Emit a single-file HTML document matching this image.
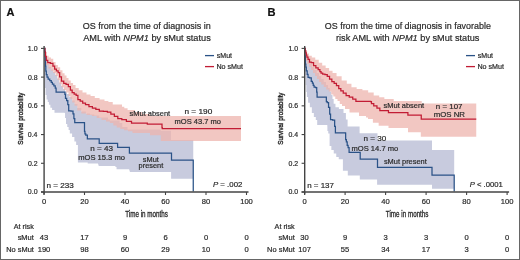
<!DOCTYPE html>
<html><head><meta charset="utf-8"><style>
html,body{margin:0;padding:0;background:#fff;}
body{width:520px;height:260px;overflow:hidden;font-family:"Liberation Sans", sans-serif;}
svg{display:block;}
</style></head><body>
<svg width="520" height="260" viewBox="0 0 520 260" style="will-change:transform" font-family='"Liberation Sans", sans-serif'>
<rect x="0" y="0" width="520" height="260" fill="#fff"/>
<path d="M44.60 48.30H44.95V54.00H45.30H45.80V60.00H46.30H47.05V64.00H47.80H48.80V67.00H49.80H50.90V69.50H52.00H53.00V72.00H54.00H55.00V75.00H56.00H57.00V78.50H58.00H59.00V82.50H60.00H61.00V86.00H62.00H63.00V89.00H64.00H65.00V91.50H66.00H67.00V94.00H68.00H69.50V97.00H71.00H72.25V100.50H73.50H74.75V104.00H76.00H77.50V108.00H79.00H81.35V111.50H83.70H85.85V113.50H88.00H90.00V114.50H92.00H94.25V115.50H96.50H99.25V117.50H102.00H108.00V119.50H109.85V120.50H111.70H119.60V123.00H122.30V127.00H125.00H127.50V129.50H130.00H160.80V130.70H171.00V140.00H193.25V140.00V178.75L193.25 178.75L171.20 178.75L171.10 178.75L171.10 172.00L171.00 172.00L171.00 172.00L130.40 172.00L129.80 172.00L129.80 170.40L129.20 170.40L129.20 169.20L117.70 169.20L116.55 169.20L116.55 167.00L115.40 167.00L115.40 166.00L99.20 166.00L98.60 166.00L98.60 164.60L98.00 164.60L98.00 163.50L87.70 163.50L87.70 162.50L78.50 162.50L77.90 162.50L77.90 145.00L77.30 145.00L76.15 145.00L76.15 141.50L75.00 141.50L74.40 141.50L74.40 137.00L73.80 137.00L72.10 137.00L72.10 133.50L70.40 133.50L69.80 133.50L69.80 130.00L69.20 130.00L68.60 130.00L68.60 127.00L68.00 127.00L67.25 127.00L67.25 124.00L66.50 124.00L66.00 124.00L66.00 118.00L65.50 118.00L65.05 118.00L65.05 113.00L64.60 113.00L64.60 112.80L56.00 112.80L54.50 112.80L54.50 110.00L53.00 110.00L52.10 110.00L52.10 107.70L51.20 107.70L50.35 107.70L50.35 104.80L49.50 104.80L48.90 104.80L48.90 102.00L48.30 102.00L47.75 102.00L47.75 99.60L47.20 99.60L46.60 99.60L46.60 95.00L46.00 95.00L45.60 95.00L45.60 88.00L45.20 88.00L44.90 88.00L44.90 80.00L44.60 80.00Z" fill="#c8cbde"/>
<path d="M44.60 48.30H45.30V52.00H46.00H46.75V55.80H47.50H48.65V57.50H49.80H50.95V58.70H52.10H53.25V62.10H54.40H55.55V65.00H56.70H57.85V67.30H59.00H60.15V70.20H61.30H62.45V73.20H63.60H64.55V75.50H65.50H66.50V78.00H67.50H68.50V80.40H69.50H70.75V83.00H72.00H73.05V85.00H74.10H75.55V88.00H77.00H78.75V90.20H80.50H82.50V92.50H84.50H86.50V94.50H88.50H90.55V96.00H92.60H94.80V98.00H97.00H99.60V99.50H102.20H104.50V101.00H106.80H108.40V102.00H110.00H112.75V104.50H115.50H122.00V106.80H124.30V108.20H126.60H127.55V110.00H128.50H135.00V112.00H142.00V114.00H150.00V115.90H241.00V115.90V141.00L241.00 141.00L160.80 141.00L160.80 135.30L150.00 135.30L150.00 133.00L135.00 133.00L132.50 133.00L132.50 131.30L130.00 131.30L128.00 131.30L128.00 130.30L126.00 130.30L124.00 130.30L124.00 129.00L122.00 129.00L120.25 129.00L120.25 127.50L118.50 127.50L116.75 127.50L116.75 125.50L115.00 125.50L113.35 125.50L113.35 123.00L111.70 123.00L109.85 123.00L109.85 121.50L108.00 121.50L106.00 121.50L106.00 120.00L104.00 120.00L101.50 120.00L101.50 118.00L99.00 118.00L96.70 118.00L96.70 116.00L94.40 116.00L91.90 116.00L91.90 115.00L89.40 115.00L86.55 115.00L86.55 113.50L83.70 113.50L81.35 113.50L81.35 110.50L79.00 110.50L77.30 110.50L77.30 105.80L75.60 105.80L74.55 105.80L74.55 102.50L73.50 102.50L72.25 102.50L72.25 99.00L71.00 99.00L70.25 99.00L70.25 96.00L69.50 96.00L68.50 96.00L68.50 92.50L67.50 92.50L66.20 92.50L66.20 90.20L64.90 90.20L63.75 90.20L63.75 87.30L62.60 87.30L61.55 87.30L61.55 84.00L60.50 84.00L59.50 84.00L59.50 80.00L58.50 80.00L57.60 80.00L57.60 76.00L56.70 76.00L55.55 76.00L55.55 73.10L54.40 73.10L53.25 73.10L53.25 70.80L52.10 70.80L50.95 70.80L50.95 68.50L49.80 68.50L48.35 68.50L48.35 65.00L46.90 65.00L46.05 65.00L46.05 61.00L45.20 61.00L44.90 61.00L44.90 55.00L44.60 55.00Z" fill="rgba(238,180,174,0.75)"/>
<path d="M304.90 48.30H305.45V52.00H306.00H306.75V56.00H307.50H308.25V60.00H309.00H310.00V64.00H311.00H312.00V67.00H313.00H314.25V70.00H315.50H316.75V73.00H318.00H319.00V76.00H320.00H321.25V79.00H322.50H323.75V82.00H325.00H326.00V85.00H327.00H328.00V88.00H329.00H329.75V91.50H330.50H331.25V95.00H332.00H332.50V99.00H333.00H333.65V103.80H334.30H335.45V107.30H336.60H338.90V109.00H341.20H343.50V113.00H345.80H345.90V119.50H346.00H347.60V126.40H349.20H359.60V133.20H377.50V140.50H432.00V150.00H454.20V150.00V188.80L454.20 188.80L432.00 188.80L432.00 184.80L377.10 184.80L377.10 179.60L359.80 179.60L359.80 175.50L349.80 175.50L347.80 175.50L347.80 170.80L345.80 170.80L342.90 170.80L342.90 159.20L340.00 159.20L338.75 159.20L338.75 157.00L337.50 157.00L336.25 157.00L336.25 153.50L335.00 153.50L333.75 153.50L333.75 150.00L332.50 150.00L331.35 150.00L331.35 146.00L330.20 146.00L329.60 146.00L329.60 133.50L329.00 133.50L328.25 133.50L328.25 131.00L327.50 131.00L327.40 131.00L327.40 126.50L327.30 126.50L327.30 125.00L317.50 125.00L317.20 125.00L317.20 120.00L316.90 120.00L315.80 120.00L315.80 117.00L314.70 117.00L313.85 117.00L313.85 113.00L313.00 113.00L311.85 113.00L311.85 107.30L310.70 107.30L309.85 107.30L309.85 102.70L309.00 102.70L308.10 102.70L308.10 97.00L307.20 97.00L306.90 97.00L306.90 92.00L306.60 92.00L306.30 92.00L306.30 85.00L306.00 85.00L305.75 85.00L305.75 75.00L305.50 75.00L305.20 75.00L305.20 60.00L304.90 60.00Z" fill="#c8cbde"/>
<path d="M304.90 48.30H305.70V51.00H306.50H307.15V53.50H307.80H308.95V55.80H310.10H311.80V57.50H313.50H315.25V59.80H317.00H318.75V62.70H320.50H322.20V65.60H323.90H325.65V67.90H327.40H329.10V70.80H330.80H332.55V73.10H334.30H336.55V76.30H338.80H341.65V80.40H344.50H346.80V83.80H349.10H351.45V87.30H353.80H356.65V89.00H359.50H362.40V90.20H365.30H368.15V92.50H371.00H373.70V95.50H376.40H379.20V97.20H382.00H384.35V99.00H386.70H393.70V101.00H421.50V101.00H421.75V103.60H422.00H476.25V103.60V136.80L476.25 136.80L420.80 136.80L420.80 132.20L408.00 132.20L408.00 128.10L388.50 128.10L388.50 125.80L381.50 125.80L378.65 125.80L378.65 122.80L375.80 122.80L372.90 122.80L372.90 119.00L370.00 119.00L368.00 119.00L368.00 117.60L366.00 117.60L366.00 116.00L359.00 116.00L359.00 112.50L352.00 112.50L349.50 112.50L349.50 109.00L347.00 109.00L345.00 109.00L345.00 106.00L343.00 106.00L342.00 106.00L342.00 104.00L341.00 104.00L339.75 104.00L339.75 101.00L338.50 101.00L337.50 101.00L337.50 99.00L336.50 99.00L335.30 99.00L335.30 96.50L334.10 96.50L333.30 96.50L333.30 94.60L332.50 94.60L331.25 94.60L331.25 91.50L330.00 91.50L328.75 91.50L328.75 89.50L327.50 89.50L326.25 89.50L326.25 87.00L325.00 87.00L323.80 87.00L323.80 84.50L322.60 84.50L321.30 84.50L321.30 82.00L320.00 82.00L319.00 82.00L319.00 79.00L318.00 79.00L317.00 79.00L317.00 76.00L316.00 76.00L315.00 76.00L315.00 73.00L314.00 73.00L313.00 73.00L313.00 70.00L312.00 70.00L311.00 70.00L311.00 67.00L310.00 67.00L309.00 67.00L309.00 64.00L308.00 64.00L307.30 64.00L307.30 61.00L306.60 61.00L306.05 61.00L306.05 57.00L305.50 57.00L305.20 57.00L305.20 52.00L304.90 52.00Z" fill="rgba(238,180,174,0.75)"/>
<path d="M44.60 48.30H44.90V52.00H45.20H45.30V60.00H45.40H45.50V66.00H45.60H45.80V71.00H46.00H46.30V74.50H46.60H47.05V77.00H47.50H48.15V79.00H48.80H49.75V80.50H50.70H51.25V82.30H51.80H52.40V84.00H53.00H53.85V85.80H54.70H55.25V88.00H55.80H56.10V92.00H56.40H64.60V92.00H64.90V94.30H65.20H65.50V98.30H65.80H66.65V100.70H67.50H67.80V104.70H68.10H68.70V110.80H69.30H71.00V111.20H72.70H73.00V113.90H73.30H73.90V118.50H74.50H74.75V122.50H75.00H84.40V122.80H84.50V131.30H84.60H84.95V133.75H85.30H85.75V135.00H86.20H87.35V138.80H88.50H99.20V143.40H117.60V147.40H129.40V153.00H171.50V160.00H193.25V191.50" fill="none" stroke="#2a5287" stroke-width="1.25" stroke-linejoin="miter"/>
<path d="M44.60 48.30H44.90V52.00H45.20H45.45V56.40H45.70H46.30V60.40H46.90H47.75V62.70H48.60H50.35V63.30H52.10H52.95V66.20H53.80H54.65V69.10H55.50H56.40V70.80H57.30H58.15V72.50H59.00H59.65V76.90H60.30H61.45V81.00H62.60H63.75V83.30H64.90H66.05V84.40H67.20H68.35V86.70H69.50H70.40V90.20H71.30H72.15V92.50H73.00H74.15V94.20H75.30H76.15V95.40H77.00H77.90V99.50H78.80H80.20V101.00H81.60H82.70V103.00H83.80H85.50V104.70H87.20H88.95V106.50H90.70H92.40V108.20H94.10H95.85V109.40H97.60H99.30V111.10H101.00H103.35V111.40H105.70H107.40V112.20H109.10H110.85V114.00H112.60H114.35V116.30H116.10H117.80V118.60H119.50H121.80V119.70H124.10H126.40V121.40H128.70H131.50V123.10H134.30H147.30V124.20H162.00V127.60H162.30V128.50H162.60H241.00V128.50" fill="none" stroke="#c21c34" stroke-width="1.25" stroke-linejoin="miter"/>
<path d="M304.90 48.30H305.05V56.00H305.20H305.40V64.00H305.60H305.80V67.00H306.00H306.30V70.90H306.60H307.20V74.40H307.80H308.05V77.30H308.30H309.50V77.80H310.70H311.25V81.30H311.80H312.40V83.00H313.00H313.25V85.30H313.50H314.10V87.10H314.70H315.55V87.60H316.40H316.70V92.00H317.00H317.10V97.10H317.20H326.20V97.20H326.35V101.50H326.50H327.25V102.70H328.00H328.55V107.30H329.10H329.70V114.20H330.30H330.55V119.70H330.80H332.65V120.00H334.50H334.65V126.40H334.80H335.40V132.90H336.00H345.50V133.10H345.65V139.50H345.80H346.35V141.80H346.90H347.20V145.30H347.50H348.10V147.60H348.70H349.10V152.30H349.50H360.20V152.30H360.20V159.20H377.50V159.20H377.50V167.40H432.00V167.40H432.00V175.10H454.20V175.10H454.20V191.50" fill="none" stroke="#2a5287" stroke-width="1.25" stroke-linejoin="miter"/>
<path d="M304.90 48.30H305.20V50.50H305.50H305.75V52.90H306.00H306.30V55.00H306.60H306.90V57.00H307.20H308.05V59.30H308.90H309.50V62.10H310.10H311.25V62.70H312.40H313.55V65.60H314.70H315.85V67.90H317.00H318.15V69.60H319.30H319.90V71.50H320.50H321.05V73.10H321.60H322.70V74.00H323.80H324.95V74.60H326.10H327.25V76.30H328.40H329.55V79.20H330.70H331.85V81.50H333.00H334.15V83.30H335.30H336.45V85.60H337.60H338.75V88.50H339.90H340.85V90.90H341.80H343.25V93.20H344.70H346.10V95.50H347.50H349.25V97.20H351.00H352.75V99.00H354.50H355.90V101.30H357.30H370.60V101.60H371.45V103.60H372.30H373.75V105.90H375.20H376.95V108.20H378.70H379.85V110.50H381.00H388.30V110.60H388.45V112.70H388.60H407.60V112.70H407.90V115.10H408.20H421.00V115.20H421.25V119.00H421.50H476.25V119.00" fill="none" stroke="#c21c34" stroke-width="1.25" stroke-linejoin="miter"/>
<line x1="44.10" y1="46" x2="44.10" y2="194.6" stroke="#444" stroke-width="1.4"/>
<line x1="41.00" y1="192" x2="248.50" y2="192" stroke="#444" stroke-width="1.4"/>
<line x1="41.00" y1="192.00" x2="44.00" y2="192.00" stroke="#444" stroke-width="1.1"/>
<text transform="translate(27.85 194.40) scale(0.930 1)" font-size="7.50" fill="#2a2a2a" stroke="#2a2a2a" stroke-width="0.20">0.0</text>
<line x1="41.00" y1="163.28" x2="44.00" y2="163.28" stroke="#444" stroke-width="1.1"/>
<text transform="translate(27.95 165.68) scale(0.930 1)" font-size="7.50" fill="#2a2a2a" stroke="#2a2a2a" stroke-width="0.20">0.2</text>
<line x1="41.00" y1="134.56" x2="44.00" y2="134.56" stroke="#444" stroke-width="1.1"/>
<text transform="translate(27.81 136.96) scale(0.930 1)" font-size="7.50" fill="#2a2a2a" stroke="#2a2a2a" stroke-width="0.20">0.4</text>
<line x1="41.00" y1="105.84" x2="44.00" y2="105.84" stroke="#444" stroke-width="1.1"/>
<text transform="translate(27.88 108.24) scale(0.930 1)" font-size="7.50" fill="#2a2a2a" stroke="#2a2a2a" stroke-width="0.20">0.6</text>
<line x1="41.00" y1="77.12" x2="44.00" y2="77.12" stroke="#444" stroke-width="1.1"/>
<text transform="translate(27.88 79.52) scale(0.930 1)" font-size="7.50" fill="#2a2a2a" stroke="#2a2a2a" stroke-width="0.20">0.8</text>
<line x1="41.00" y1="48.40" x2="44.00" y2="48.40" stroke="#444" stroke-width="1.1"/>
<text transform="translate(27.85 50.80) scale(0.930 1)" font-size="7.50" fill="#2a2a2a" stroke="#2a2a2a" stroke-width="0.20">1.0</text>
<line x1="44.00" y1="192" x2="44.00" y2="195" stroke="#444" stroke-width="1.1"/>
<text x="44.00" y="204.30" font-size="7.60" text-anchor="middle" fill="#2a2a2a" stroke="#2a2a2a" stroke-width="0.20" font-weight="normal" font-style="normal" >0</text>
<line x1="84.50" y1="192" x2="84.50" y2="195" stroke="#444" stroke-width="1.1"/>
<text x="84.50" y="204.30" font-size="7.60" text-anchor="middle" fill="#2a2a2a" stroke="#2a2a2a" stroke-width="0.20" font-weight="normal" font-style="normal" >20</text>
<line x1="125.00" y1="192" x2="125.00" y2="195" stroke="#444" stroke-width="1.1"/>
<text x="125.00" y="204.30" font-size="7.60" text-anchor="middle" fill="#2a2a2a" stroke="#2a2a2a" stroke-width="0.20" font-weight="normal" font-style="normal" >40</text>
<line x1="165.50" y1="192" x2="165.50" y2="195" stroke="#444" stroke-width="1.1"/>
<text x="165.50" y="204.30" font-size="7.60" text-anchor="middle" fill="#2a2a2a" stroke="#2a2a2a" stroke-width="0.20" font-weight="normal" font-style="normal" >60</text>
<line x1="206.00" y1="192" x2="206.00" y2="195" stroke="#444" stroke-width="1.1"/>
<text x="206.00" y="204.30" font-size="7.60" text-anchor="middle" fill="#2a2a2a" stroke="#2a2a2a" stroke-width="0.20" font-weight="normal" font-style="normal" >80</text>
<line x1="246.50" y1="192" x2="246.50" y2="195" stroke="#444" stroke-width="1.1"/>
<text x="246.50" y="204.30" font-size="7.60" text-anchor="middle" fill="#2a2a2a" stroke="#2a2a2a" stroke-width="0.20" font-weight="normal" font-style="normal" >100</text>
<text transform="translate(125.27 216.60) scale(0.721 1)" font-size="8.70" fill="#2a2a2a" stroke="#2a2a2a" stroke-width="0.32">Time in months</text>
<g transform="translate(22.70 144.4) rotate(-90)"><text transform="translate(-0.28 0.00) scale(0.778 1)" font-size="8.00" fill="#2a2a2a" stroke="#2a2a2a" stroke-width="0.40">Survival probability</text></g>
<line x1="304.70" y1="46" x2="304.70" y2="194.6" stroke="#444" stroke-width="1.4"/>
<line x1="301.60" y1="192" x2="509.10" y2="192" stroke="#444" stroke-width="1.4"/>
<line x1="301.60" y1="192.00" x2="304.60" y2="192.00" stroke="#444" stroke-width="1.1"/>
<text transform="translate(288.45 194.40) scale(0.930 1)" font-size="7.50" fill="#2a2a2a" stroke="#2a2a2a" stroke-width="0.20">0.0</text>
<line x1="301.60" y1="163.28" x2="304.60" y2="163.28" stroke="#444" stroke-width="1.1"/>
<text transform="translate(288.55 165.68) scale(0.930 1)" font-size="7.50" fill="#2a2a2a" stroke="#2a2a2a" stroke-width="0.20">0.2</text>
<line x1="301.60" y1="134.56" x2="304.60" y2="134.56" stroke="#444" stroke-width="1.1"/>
<text transform="translate(288.41 136.96) scale(0.930 1)" font-size="7.50" fill="#2a2a2a" stroke="#2a2a2a" stroke-width="0.20">0.4</text>
<line x1="301.60" y1="105.84" x2="304.60" y2="105.84" stroke="#444" stroke-width="1.1"/>
<text transform="translate(288.48 108.24) scale(0.930 1)" font-size="7.50" fill="#2a2a2a" stroke="#2a2a2a" stroke-width="0.20">0.6</text>
<line x1="301.60" y1="77.12" x2="304.60" y2="77.12" stroke="#444" stroke-width="1.1"/>
<text transform="translate(288.48 79.52) scale(0.930 1)" font-size="7.50" fill="#2a2a2a" stroke="#2a2a2a" stroke-width="0.20">0.8</text>
<line x1="301.60" y1="48.40" x2="304.60" y2="48.40" stroke="#444" stroke-width="1.1"/>
<text transform="translate(288.45 50.80) scale(0.930 1)" font-size="7.50" fill="#2a2a2a" stroke="#2a2a2a" stroke-width="0.20">1.0</text>
<line x1="304.60" y1="192" x2="304.60" y2="195" stroke="#444" stroke-width="1.1"/>
<text x="304.60" y="204.30" font-size="7.60" text-anchor="middle" fill="#2a2a2a" stroke="#2a2a2a" stroke-width="0.20" font-weight="normal" font-style="normal" >0</text>
<line x1="345.10" y1="192" x2="345.10" y2="195" stroke="#444" stroke-width="1.1"/>
<text x="345.10" y="204.30" font-size="7.60" text-anchor="middle" fill="#2a2a2a" stroke="#2a2a2a" stroke-width="0.20" font-weight="normal" font-style="normal" >20</text>
<line x1="385.60" y1="192" x2="385.60" y2="195" stroke="#444" stroke-width="1.1"/>
<text x="385.60" y="204.30" font-size="7.60" text-anchor="middle" fill="#2a2a2a" stroke="#2a2a2a" stroke-width="0.20" font-weight="normal" font-style="normal" >40</text>
<line x1="426.10" y1="192" x2="426.10" y2="195" stroke="#444" stroke-width="1.1"/>
<text x="426.10" y="204.30" font-size="7.60" text-anchor="middle" fill="#2a2a2a" stroke="#2a2a2a" stroke-width="0.20" font-weight="normal" font-style="normal" >60</text>
<line x1="466.60" y1="192" x2="466.60" y2="195" stroke="#444" stroke-width="1.1"/>
<text x="466.60" y="204.30" font-size="7.60" text-anchor="middle" fill="#2a2a2a" stroke="#2a2a2a" stroke-width="0.20" font-weight="normal" font-style="normal" >80</text>
<line x1="507.10" y1="192" x2="507.10" y2="195" stroke="#444" stroke-width="1.1"/>
<text x="507.10" y="204.30" font-size="7.60" text-anchor="middle" fill="#2a2a2a" stroke="#2a2a2a" stroke-width="0.20" font-weight="normal" font-style="normal" >100</text>
<text transform="translate(385.87 216.60) scale(0.721 1)" font-size="8.70" fill="#2a2a2a" stroke="#2a2a2a" stroke-width="0.32">Time in months</text>
<g transform="translate(283.30 144.4) rotate(-90)"><text transform="translate(-0.28 0.00) scale(0.778 1)" font-size="8.00" fill="#2a2a2a" stroke="#2a2a2a" stroke-width="0.40">Survival probability</text></g>
<text transform="translate(6.52 16.00) scale(1.004 1)" font-size="11.00" fill="#111" stroke="#111" stroke-width="0.20" font-weight="bold">A</text>
<text transform="translate(267.48 16.00) scale(1.013 1)" font-size="11.00" fill="#111" stroke="#111" stroke-width="0.20" font-weight="bold">B</text>
<text transform="translate(82.79 29.40) scale(0.959 1)" font-size="9.40" fill="#2a2a2a" stroke="#2a2a2a" stroke-width="0.20">OS from the time of diagnosis in</text>
<text transform="translate(83.20 40.50) scale(0.980 1)" font-size="9.40" fill="#2a2a2a" stroke="#2a2a2a" stroke-width="0.20">AML with <tspan font-style="italic">NPM1</tspan> by sMut status</text>
<text transform="translate(324.80 29.40) scale(0.950 1)" font-size="9.40" fill="#2a2a2a" stroke="#2a2a2a" stroke-width="0.20">OS from the time of diagnosis in favorable</text>
<text transform="translate(336.00 40.50) scale(0.977 1)" font-size="9.40" fill="#2a2a2a" stroke="#2a2a2a" stroke-width="0.20">risk AML with <tspan font-style="italic">NPM1</tspan> by sMut status</text>
<line x1="205.00" y1="55.6" x2="214.00" y2="55.6" stroke="#2a5287" stroke-width="1.3"/>
<line x1="205.00" y1="66.6" x2="214.00" y2="66.6" stroke="#c21c34" stroke-width="1.3"/>
<text transform="translate(216.79 58.20) scale(0.978 1)" font-size="7.20" fill="#2a2a2a" stroke="#2a2a2a" stroke-width="0.20">sMut</text>
<text transform="translate(216.43 69.00) scale(0.993 1)" font-size="7.20" fill="#2a2a2a" stroke="#2a2a2a" stroke-width="0.20">No sMut</text>
<line x1="466.00" y1="55.6" x2="475.00" y2="55.6" stroke="#2a5287" stroke-width="1.3"/>
<line x1="466.00" y1="66.6" x2="475.00" y2="66.6" stroke="#c21c34" stroke-width="1.3"/>
<text transform="translate(477.79 58.20) scale(0.978 1)" font-size="7.20" fill="#2a2a2a" stroke="#2a2a2a" stroke-width="0.20">sMut</text>
<text transform="translate(477.43 69.00) scale(0.993 1)" font-size="7.20" fill="#2a2a2a" stroke="#2a2a2a" stroke-width="0.20">No sMut</text>
<text transform="translate(129.58 115.50) scale(0.996 1)" font-size="7.50" fill="#2a2a2a" stroke="#2a2a2a" stroke-width="0.20">sMut absent</text>
<text transform="translate(184.46 114.40) scale(1.103 1)" font-size="7.50" fill="#2a2a2a" stroke="#2a2a2a" stroke-width="0.20">n = 190</text>
<text transform="translate(174.61 123.90) scale(1.005 1)" font-size="7.50" fill="#2a2a2a" stroke="#2a2a2a" stroke-width="0.20">mOS 43.7 mo</text>
<text transform="translate(90.27 151.20) scale(1.081 1)" font-size="7.50" fill="#2a2a2a" stroke="#2a2a2a" stroke-width="0.20">n = 43</text>
<text transform="translate(78.21 160.40) scale(1.013 1)" font-size="7.50" fill="#2a2a2a" stroke="#2a2a2a" stroke-width="0.20">mOS 15.3 mo</text>
<text transform="translate(142.78 161.50) scale(0.989 1)" font-size="7.50" fill="#2a2a2a" stroke="#2a2a2a" stroke-width="0.20">sMut</text>
<text transform="translate(138.62 168.30) scale(0.984 1)" font-size="7.50" fill="#2a2a2a" stroke="#2a2a2a" stroke-width="0.20">present</text>
<text transform="translate(46.57 187.50) scale(1.084 1)" font-size="7.50" fill="#2a2a2a" stroke="#2a2a2a" stroke-width="0.20">n = 233</text>
<text transform="translate(212.96 187.40) scale(1.046 1)" font-size="7.50" fill="#2a2a2a" stroke="#2a2a2a" stroke-width="0.20"><tspan font-style="italic">P</tspan> = .002</text>
<text transform="translate(383.58 108.40) scale(0.996 1)" font-size="7.50" fill="#2a2a2a" stroke="#2a2a2a" stroke-width="0.20">sMut absent</text>
<text transform="translate(435.78 108.60) scale(1.058 1)" font-size="7.50" fill="#2a2a2a" stroke="#2a2a2a" stroke-width="0.20">n = 107</text>
<text transform="translate(433.69 117.30) scale(1.045 1)" font-size="7.50" fill="#2a2a2a" stroke="#2a2a2a" stroke-width="0.20">mOS NR</text>
<text transform="translate(363.47 141.00) scale(1.084 1)" font-size="7.50" fill="#2a2a2a" stroke="#2a2a2a" stroke-width="0.20">n = 30</text>
<text transform="translate(351.51 150.50) scale(1.011 1)" font-size="7.50" fill="#2a2a2a" stroke="#2a2a2a" stroke-width="0.20">mOS 14.7 mo</text>
<text transform="translate(383.88 164.10) scale(0.991 1)" font-size="7.50" fill="#2a2a2a" stroke="#2a2a2a" stroke-width="0.20">sMut present</text>
<text transform="translate(307.18 187.50) scale(1.063 1)" font-size="7.50" fill="#2a2a2a" stroke="#2a2a2a" stroke-width="0.20">n = 137</text>
<text transform="translate(469.77 187.40) scale(1.023 1)" font-size="7.50" fill="#2a2a2a" stroke="#2a2a2a" stroke-width="0.20"><tspan font-style="italic">P</tspan> &lt; .0001</text>
<text transform="translate(13.70 228.60) scale(0.990 1)" font-size="7.30" fill="#2a2a2a" stroke="#2a2a2a" stroke-width="0.20">At risk</text>
<text transform="translate(17.63 240.10) scale(1.026 1)" font-size="7.30" fill="#2a2a2a" stroke="#2a2a2a" stroke-width="0.20">sMut</text>
<text transform="translate(6.21 251.60) scale(1.018 1)" font-size="7.30" fill="#2a2a2a" stroke="#2a2a2a" stroke-width="0.20">No sMut</text>
<text x="44.00" y="240.10" font-size="7.60" text-anchor="middle" fill="#2a2a2a" stroke="#2a2a2a" stroke-width="0.20" font-weight="normal" font-style="normal" >43</text>
<text x="44.00" y="251.60" font-size="7.60" text-anchor="middle" fill="#2a2a2a" stroke="#2a2a2a" stroke-width="0.20" font-weight="normal" font-style="normal" >190</text>
<text x="84.50" y="240.10" font-size="7.60" text-anchor="middle" fill="#2a2a2a" stroke="#2a2a2a" stroke-width="0.20" font-weight="normal" font-style="normal" >17</text>
<text x="84.50" y="251.60" font-size="7.60" text-anchor="middle" fill="#2a2a2a" stroke="#2a2a2a" stroke-width="0.20" font-weight="normal" font-style="normal" >98</text>
<text x="125.00" y="240.10" font-size="7.60" text-anchor="middle" fill="#2a2a2a" stroke="#2a2a2a" stroke-width="0.20" font-weight="normal" font-style="normal" >9</text>
<text x="125.00" y="251.60" font-size="7.60" text-anchor="middle" fill="#2a2a2a" stroke="#2a2a2a" stroke-width="0.20" font-weight="normal" font-style="normal" >60</text>
<text x="165.50" y="240.10" font-size="7.60" text-anchor="middle" fill="#2a2a2a" stroke="#2a2a2a" stroke-width="0.20" font-weight="normal" font-style="normal" >6</text>
<text x="165.50" y="251.60" font-size="7.60" text-anchor="middle" fill="#2a2a2a" stroke="#2a2a2a" stroke-width="0.20" font-weight="normal" font-style="normal" >29</text>
<text x="206.00" y="240.10" font-size="7.60" text-anchor="middle" fill="#2a2a2a" stroke="#2a2a2a" stroke-width="0.20" font-weight="normal" font-style="normal" >0</text>
<text x="206.00" y="251.60" font-size="7.60" text-anchor="middle" fill="#2a2a2a" stroke="#2a2a2a" stroke-width="0.20" font-weight="normal" font-style="normal" >10</text>
<text x="246.50" y="240.10" font-size="7.60" text-anchor="middle" fill="#2a2a2a" stroke="#2a2a2a" stroke-width="0.20" font-weight="normal" font-style="normal" >0</text>
<text x="246.50" y="251.60" font-size="7.60" text-anchor="middle" fill="#2a2a2a" stroke="#2a2a2a" stroke-width="0.20" font-weight="normal" font-style="normal" >0</text>
<text transform="translate(274.60 228.60) scale(0.990 1)" font-size="7.30" fill="#2a2a2a" stroke="#2a2a2a" stroke-width="0.20">At risk</text>
<text transform="translate(278.53 240.10) scale(1.026 1)" font-size="7.30" fill="#2a2a2a" stroke="#2a2a2a" stroke-width="0.20">sMut</text>
<text transform="translate(267.11 251.60) scale(1.018 1)" font-size="7.30" fill="#2a2a2a" stroke="#2a2a2a" stroke-width="0.20">No sMut</text>
<text x="304.60" y="240.10" font-size="7.60" text-anchor="middle" fill="#2a2a2a" stroke="#2a2a2a" stroke-width="0.20" font-weight="normal" font-style="normal" >30</text>
<text x="304.60" y="251.60" font-size="7.60" text-anchor="middle" fill="#2a2a2a" stroke="#2a2a2a" stroke-width="0.20" font-weight="normal" font-style="normal" >107</text>
<text x="345.10" y="240.10" font-size="7.60" text-anchor="middle" fill="#2a2a2a" stroke="#2a2a2a" stroke-width="0.20" font-weight="normal" font-style="normal" >9</text>
<text x="345.10" y="251.60" font-size="7.60" text-anchor="middle" fill="#2a2a2a" stroke="#2a2a2a" stroke-width="0.20" font-weight="normal" font-style="normal" >55</text>
<text x="385.60" y="240.10" font-size="7.60" text-anchor="middle" fill="#2a2a2a" stroke="#2a2a2a" stroke-width="0.20" font-weight="normal" font-style="normal" >3</text>
<text x="385.60" y="251.60" font-size="7.60" text-anchor="middle" fill="#2a2a2a" stroke="#2a2a2a" stroke-width="0.20" font-weight="normal" font-style="normal" >34</text>
<text x="426.10" y="240.10" font-size="7.60" text-anchor="middle" fill="#2a2a2a" stroke="#2a2a2a" stroke-width="0.20" font-weight="normal" font-style="normal" >3</text>
<text x="426.10" y="251.60" font-size="7.60" text-anchor="middle" fill="#2a2a2a" stroke="#2a2a2a" stroke-width="0.20" font-weight="normal" font-style="normal" >17</text>
<text x="466.60" y="240.10" font-size="7.60" text-anchor="middle" fill="#2a2a2a" stroke="#2a2a2a" stroke-width="0.20" font-weight="normal" font-style="normal" >0</text>
<text x="466.60" y="251.60" font-size="7.60" text-anchor="middle" fill="#2a2a2a" stroke="#2a2a2a" stroke-width="0.20" font-weight="normal" font-style="normal" >3</text>
<text x="507.10" y="240.10" font-size="7.60" text-anchor="middle" fill="#2a2a2a" stroke="#2a2a2a" stroke-width="0.20" font-weight="normal" font-style="normal" >0</text>
<text x="507.10" y="251.60" font-size="7.60" text-anchor="middle" fill="#2a2a2a" stroke="#2a2a2a" stroke-width="0.20" font-weight="normal" font-style="normal" >0</text>
<rect x="0.5" y="0.5" width="519" height="259" fill="none" stroke="#666" stroke-width="1"/>
</svg>
</body></html>
